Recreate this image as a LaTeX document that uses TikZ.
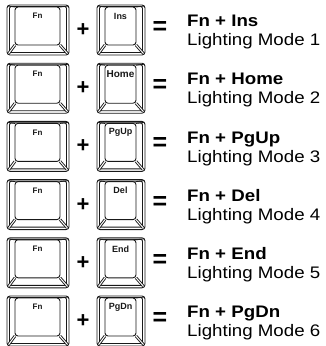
\documentclass[tikz,border=0pt]{standalone}
\usepackage{fontspec}
\setmainfont{Liberation Sans}
\newfontfamily\labelfont[FakeStretch=1.12]{Liberation Sans}
\usetikzlibrary{positioning}

\tikzset{
  keyline/.style={draw=black!90, line width=0.9pt},
  keytext/.style={text=black!90, inner sep=0pt},
  combotext/.style={font=\labelfont\bfseries\fontsize{16.7}{18}\selectfont, anchor=base west, inner sep=0pt},
  modetext/.style={font=\labelfont\fontsize{16.7}{18}\selectfont, anchor=base west, inner sep=0pt},
  optext/.style={inner sep=0pt}
}

% one key cap: name, left, top, width, label, label size
\newcommand{\keycap}[6]{%
  \begin{scope}[shift={(#2,#3)}]
    \draw[keyline, rounded corners=3pt] (0,0) rectangle (#4,50);
    \draw[keyline, rounded corners=2pt] (2.5,1.5) rectangle (#4-2.5,47.5);
    \draw[keyline, fill=white, rounded corners=3pt] (8,2) rectangle (#4-9,40);
    \draw[keyline] (8,2) -- (1,1);
    \draw[keyline] (#4-9,2) -- (#4-1,1);
    \draw[keyline, double, double distance=1pt] (8,40) -- (1.8,48.2);
    \draw[keyline, double, double distance=1pt] (#4-9,40) -- (#4-1.8,48.2);
    \node[keytext, font=\bfseries\fontsize{#6}{#6}\selectfont] (#1) at ({(#4-1)/2},11) {#5};
  \end{scope}}

% one row: number, top, key, key label size
\newcommand{\keyrow}[4]{%
  \keycap{fn#1}{7}{#2}{62}{Fn}{8}
  \keycap{key#1}{97}{#2}{48}{#3}{#4}
  \node[optext, font=\bfseries\fontsize{22}{22}\selectfont] (plus#1) at (83,#2+25) {+};
  \node[optext, font=\bfseries\fontsize{25}{25}\selectfont] (eq#1) at (160,#2+23) {=};
  \node[combotext] (combo#1) at (187,#2+21.7) {Fn + #3};
  \node[modetext] (mode#1) at (187,#2+40.7) {Lighting Mode #1};
}

\begin{document}
\begin{tikzpicture}[x=1pt, y=-1pt]
  \useasboundingbox (0,0) rectangle (326,346);

  \keyrow{1}{5}{Ins}{9}
  \keyrow{2}{63.2}{Home}{10}
  \keyrow{3}{121.4}{PgUp}{9}
  \keyrow{4}{179.6}{Del}{9}
  \keyrow{5}{237.8}{End}{9}
  \keyrow{6}{296}{PgDn}{9}
\end{tikzpicture}
\end{document}
